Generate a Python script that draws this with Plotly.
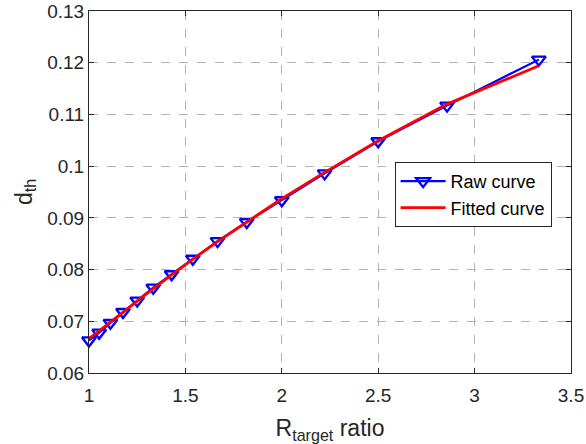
import plotly.graph_objects as go

x_vals = [1.0, 1.0526, 1.1111, 1.1765, 1.25, 1.3333, 1.4286, 1.5385, 1.6667, 1.8182, 2.0, 2.2222, 2.5, 2.8571, 3.3333]
raw_vals = [0.0663, 0.0678, 0.0697, 0.0718, 0.0740, 0.0765, 0.0791, 0.0821, 0.0855, 0.0892, 0.0934, 0.0986, 0.1048, 0.1117, 0.1206]
fit_vals = [0.0666, 0.0681, 0.0698, 0.0718, 0.0739, 0.0763, 0.0790, 0.0820, 0.0854, 0.0892, 0.0937, 0.0988, 0.1049, 0.1120, 0.1194]
x_ticks = [1, 1.5, 2, 2.5, 3, 3.5]
x_tick_labels = ["1", "1.5", "2", "2.5", "3", "3.5"]
y_ticks = [0.06, 0.07, 0.08, 0.09, 0.1, 0.11, 0.12, 0.13]
y_tick_labels = ["0.06", "0.07", "0.08", "0.09", "0.1", "0.11", "0.12", "0.13"]

font_family = "Liberation Sans, Arial, sans-serif"

fig = go.Figure()
fig.add_trace(go.Scatter(
    x=x_vals, y=raw_vals, mode="lines+markers", name="Raw curve",
    line=dict(color="#0000ff", width=2.2), cliponaxis=False,
    marker=dict(symbol="triangle-down-open", size=12, color="#0000ff", line=dict(width=2.4, color="#0000ff")),
))
fig.add_trace(go.Scatter(
    x=x_vals, y=fit_vals, mode="lines", name="Fitted curve",
    line=dict(color="#ff0000", width=2.8), cliponaxis=False,
))

axis_common = dict(
    showline=True, linecolor="#262626", linewidth=1, mirror="ticks",
    ticks="inside", ticklen=5, tickcolor="#262626",
    showgrid=True, gridcolor="#b3b3b3", griddash="dash", gridwidth=1,
    zeroline=False, automargin=False,
    tickfont=dict(size=19, color="#262626", family=font_family),
)

fig.update_layout(
    width=586, height=444,
    margin=dict(l=89, r=15, t=11, b=71, autoexpand=False),
    paper_bgcolor="white", plot_bgcolor="white",
    font=dict(family=font_family, color="#262626"),
    xaxis=dict(range=[1, 3.5], tickvals=x_ticks, ticktext=x_tick_labels, ticklabelstandoff=5,
               title=dict(text="R<sub>target</sub> ratio", font=dict(size=23, color="#262626"), standoff=16),
               **axis_common),
    yaxis=dict(range=[0.06, 0.13], tickvals=y_ticks, ticktext=y_tick_labels,
               title=dict(text="d<sub>th</sub>", font=dict(size=23, color="#262626"), standoff=8),
               **axis_common),
    legend=dict(x=0.634, y=0.583, xanchor="left", yanchor="top",
                bgcolor="white", bordercolor="#262626", borderwidth=1,
                font=dict(size=18, color="#000000", family=font_family),
                tracegroupgap=0, itemwidth=45),
    showlegend=True,
)

fig.write_html("out.html")
